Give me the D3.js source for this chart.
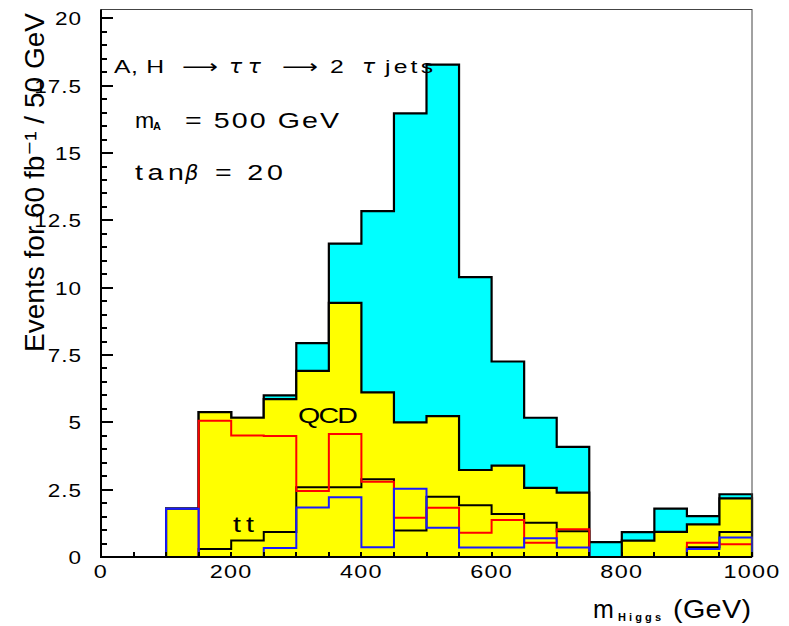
<!DOCTYPE html>
<html>
  <head>
    <meta http-equiv="Content-Type" content="text/html; charset=utf-8" />
    <style>
    body {
      margin: 0;
      background: #fff;
    }
    </style>
  </head>
  <body>
    <div id="chart"></div>
    <script src="https://d3js.org/d3.v7.min.js"></script>
    <script>

// 50 GeV bins, 0 .. 1000
const edges = [0, 50, 100, 150, 200, 250, 300, 350, 400, 450, 500,
               550, 600, 650, 700, 750, 800, 850, 900, 950, 1000];

// signal + background (cyan)
const total = [0, 0, 1.8, 5.38, 5.17, 6.0, 7.94, 11.64, 12.84, 16.47,
               18.28, 10.39, 7.26, 5.17, 4.09, 0.55, 0.92, 1.8, 1.52, 2.33];
// all backgrounds (yellow)
const background = [0, 0, 1.8, 5.38, 5.17, 5.86, 6.91, 9.44, 6.11, 5.0,
                    5.23, 3.23, 3.39, 2.57, 2.39, 0, 0.61, 0.93, 1.21, 2.18];
// black line inside the yellow
const otherBkg = [0, 0, 0, 0.3, 0.61, 0.93, 2.59, 2.59, 2.89, 0.98,
                  2.24, 1.92, 1.6, 1.27, 0.96, 0, 0, 0, 0.36, 0.93];
// QCD (red)
const qcd = [0, 0, 0, 5.06, 4.51, 4.49, 2.45, 4.57, 2.79, 1.46,
             1.83, 0.9, 1.37, 0.53, 1.03, 0, 0, 0, 0.53, 0.47];
// tt (blue)
const ttbar = [0, 0, 1.79, 0, 0, 0.33, 1.84, 2.22, 0.36, 2.53,
               1.09, 0.35, 0.35, 0.7, 0.35, 0, 0, 0, 0.3, 0.72];

const yMajor = [0, 2.5, 5, 7.5, 10, 12.5, 15, 17.5, 20];
const yMinor = [0.5, 1, 1.5, 2, 3, 3.5, 4, 4.5, 5.5, 6, 6.5, 7, 8, 8.5, 9, 9.5,
                10.5, 11, 11.5, 12, 13, 13.5, 14, 14.5, 15.5, 16, 16.5, 17,
                18, 18.5, 19, 19.5];
const xLabels = [0, 200, 400, 600, 800, 1000];

var width = 789, height = 626;
var font = "'Liberation Sans', Arial, 'DejaVu Sans', sans-serif";
var greek = "'DejaVu Sans', sans-serif";

var svg = d3.select("#chart").append("svg")
    .attr("width", width)
    .attr("height", height);

var x = d3.scaleLinear().domain([0, 1000]).range([101, 752]);
var y = d3.scaleLinear().domain([0, 20.33]).range([557, 9.5]);

var stepLine = d3.line().x(d => x(d[0])).y(d => y(d[1]));

// step outline from first to last filled bin
function steps(vals) {
  var s = vals.findIndex(v => v > 0);
  var e = vals.length - 1 - vals.slice().reverse().findIndex(v => v > 0);
  var pts = [[edges[s], 0]];
  for (var i = s; i <= e; i++) {
    pts.push([edges[i], vals[i]], [edges[i + 1], vals[i]]);
  }
  pts.push([edges[e + 1], 0]);
  return pts;
}

function filled(vals, colour) {
  svg.append("path")
    .attr("d", stepLine(steps(vals)) + "Z")
    .attr("fill", colour)
    .attr("stroke", "none");
  svg.append("path")
    .attr("d", stepLine(steps(vals)))
    .attr("fill", "none")
    .attr("stroke", "#000")
    .attr("stroke-width", 2.2);
}

function outline(vals, colour) {
  svg.append("path")
    .attr("d", stepLine(steps(vals)))
    .attr("fill", "none")
    .attr("stroke", colour)
    .attr("stroke-width", 2);
}

filled(total, "#00ffff");
filled(background, "#ffff00");
outline(otherBkg, "#000");
outline(qcd, "#ff0000");
outline(ttbar, "#1a1aff");

// frame
svg.append("rect")
  .attr("x", x(0)).attr("y", y(20.33))
  .attr("width", x(1000) - x(0)).attr("height", y(0) - y(20.33))
  .attr("fill", "none").attr("stroke", "#444").attr("stroke-width", 1);

// ticks pointing inward (drawn as small filled bars)
var ticks = svg.append("g").attr("fill", "#000");
yMajor.forEach(function(d) {
  ticks.append("rect")
    .attr("x", 100).attr("y", Math.round(y(d)) - 1)
    .attr("width", 13).attr("height", 2);
});
yMinor.forEach(function(d) {
  ticks.append("rect")
    .attr("x", 100).attr("y", Math.round(y(d)) - 1)
    .attr("width", 7).attr("height", 2);
});
edges.forEach(function(d) {
  ticks.append("rect")
    .attr("x", Math.round(x(d)) - 1).attr("y", y(0) - 5)
    .attr("width", 2).attr("height", 5);
});

yMajor.forEach(function(d) {
  svg.append("text")
    .attr("transform", "translate(82," + (y(d) + 7) + ") scale(1.25,1)")
    .attr("text-anchor", "end")
    .attr("font-family", font).attr("font-size", 18)
    .attr("letter-spacing", 0.8)
    .text(d);
});

xLabels.forEach(function(d) {
  svg.append("text")
    .attr("transform", "translate(" + x(d) + ",578) scale(1.3,1)")
    .attr("text-anchor", "middle")
    .attr("font-family", font).attr("font-size", 18)
    .attr("letter-spacing", 1)
    .text(d);
});

// axis lines
svg.append("line").attr("x1", x(0)).attr("x2", x(0)).attr("y1", y(0) + 1).attr("y2", y(20.33))
  .attr("stroke", "#000").attr("stroke-width", 2);
svg.append("line").attr("x1", x(0)).attr("x2", x(1000)).attr("y1", y(0)).attr("y2", y(0))
  .attr("stroke", "#000").attr("stroke-width", 2);

// text widened to the measured span (the original font is wide)
function put(x0, x1, base, str, o) {
  o = o || {};
  var sx = o.sx || 1.3;
  var t = svg.append("text")
    .attr("transform", "translate(" + x0 + "," + base + ") scale(" + sx + ",1)")
    .attr("font-family", o.family || font)
    .attr("font-size", o.size || 19)
    .attr("fill", "#000")
    .text(str);
  if (x1) {
    t.attr("textLength", (x1 - x0) / sx)
     .attr("lengthAdjust", o.stretch ? "spacingAndGlyphs" : "spacing");
  }
  if (o.italic) t.attr("font-style", "oblique");
  if (o.bold) t.attr("font-weight", "bold");
  return t;
}

put(114, 164, 73, "A, H", {size: 19});
put(182, 218, 73, "\u27F6", {family: greek, stretch: true});
put(229, 261, 73, "\u03C4\u03C4", {family: greek, size: 19, italic: true, sx: 1.15});
put(282, 318, 73, "\u27F6", {family: greek, stretch: true});
put(330, 344, 73, "2", {size: 19});
put(362, 376, 73, "\u03C4", {family: greek, size: 19, italic: true, sx: 1.15});
put(385, 433, 73, "jets", {size: 19});

put(135, 153, 128, "m", {size: 22, sx: 1.05});
put(153, 163, 130, "A", {size: 10, bold: true, sx: 1.1});
put(185, 339, 128, "= 500 GeV", {size: 22});

put(135, 184, 180, "tan", {size: 22});
put(185, 198, 180, "\u03B2", {family: greek, size: 21, italic: true, sx: 1});
put(215, 283, 180, "= 20", {size: 22});

put(298, 358, 423, "QCD", {size: 22});
put(233, 254, 532, "tt", {size: 22});

// axis titles
put(593, 614, 618, "m", {size: 25, sx: 1});
put(618, 661, 621, "Higgs", {size: 11, bold: true, sx: 1});
put(673, 751, 618, "(GeV)", {size: 25, sx: 1.15});

svg.append("text")
  .attr("transform", "translate(44,352) rotate(-90)")
  .attr("font-family", font)
  .attr("font-size", 28)
  .attr("textLength", 339)
  .attr("lengthAdjust", "spacing")
  .attr("fill", "#000")
  .text("Events for 60 fb\u207B\u00B9 / 50 GeV");

    </script>
  </body>
</html>
